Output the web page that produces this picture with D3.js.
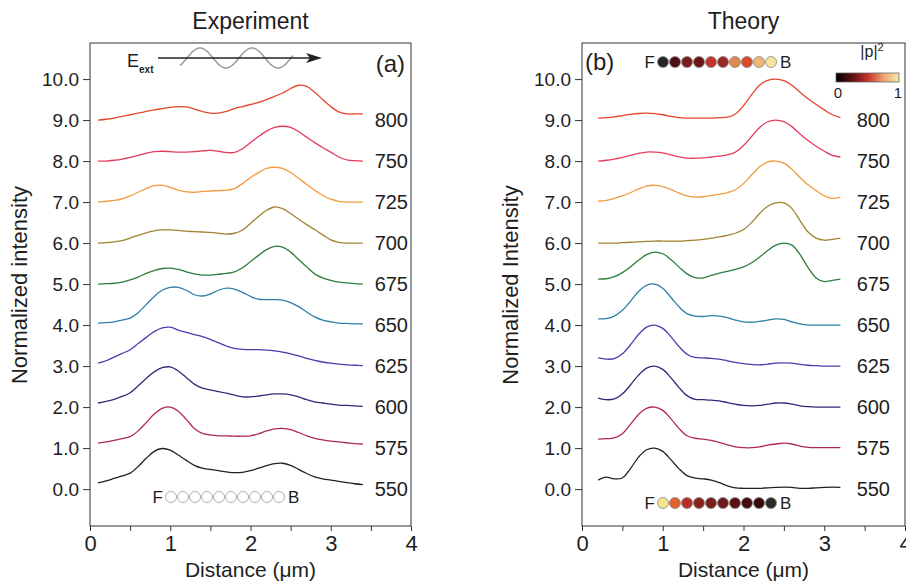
<!DOCTYPE html>
<html>
<head>
<meta charset="utf-8">
<title>Experiment vs Theory</title>
<script src="https://cdn.jsdelivr.net/npm/d3@7"></script>
<style>
  body { margin: 0; background: #fff; }
  text { font-family: "Liberation Sans", Arial, sans-serif; fill: #1e1e1e; }
</style>
</head>
<body>
<svg id="chart" width="906" height="582"></svg>
<script>
// ---- data ----
const wavelengths = ["800", "750", "725", "700", "675", "650", "625", "600", "575", "550"];
const baselines = [9, 8, 7, 6, 5, 4, 3, 2, 1, 0];
const yTicks = [0, 1, 2, 3, 4, 5, 6, 7, 8, 9, 10];
const xTicks = [0, 0.5, 1, 1.5, 2, 2.5, 3, 3.5, 4];

// experiment, x in um
const expX = [0.1, 0.2, 0.3, 0.4, 0.5, 0.6, 0.7, 0.8, 0.9, 1.0, 1.1, 1.2, 1.3, 1.4, 1.5, 1.6, 1.7,
  1.8, 1.9, 2.0, 2.1, 2.2, 2.3, 2.4, 2.5, 2.6, 2.7, 2.8, 2.9, 3.0, 3.1, 3.2, 3.3, 3.4];
const exp800 = [9.00, 9.02, 9.05, 9.09, 9.13, 9.17, 9.21, 9.25, 9.28, 9.31, 9.33, 9.32, 9.27, 9.21, 9.17, 9.17, 9.21,
  9.28, 9.33, 9.38, 9.43, 9.50, 9.58, 9.66, 9.77, 9.85, 9.82, 9.68, 9.50, 9.33, 9.20, 9.15, 9.15, 9.15];
const exp750 = [8.00, 8.00, 8.02, 8.05, 8.09, 8.14, 8.19, 8.23, 8.24, 8.23, 8.22, 8.22, 8.23, 8.25, 8.26, 8.24, 8.21,
  8.21, 8.30, 8.45, 8.60, 8.73, 8.82, 8.85, 8.82, 8.72, 8.58, 8.45, 8.33, 8.22, 8.10, 8.03, 8.01, 8.00];
const exp725 = [7.00, 7.02, 7.04, 7.08, 7.15, 7.24, 7.33, 7.40, 7.41, 7.36, 7.29, 7.25, 7.24, 7.26, 7.27, 7.28, 7.29,
  7.33, 7.45, 7.60, 7.72, 7.82, 7.85, 7.82, 7.72, 7.58, 7.43, 7.29, 7.16, 7.07, 7.02, 7.00, 7.00, 7.00];
const exp700 = [6.00, 6.01, 6.03, 6.06, 6.12, 6.19, 6.25, 6.30, 6.32, 6.32, 6.31, 6.29, 6.28, 6.27, 6.26, 6.24, 6.22,
  6.24, 6.32, 6.48, 6.65, 6.80, 6.88, 6.84, 6.72, 6.58, 6.45, 6.33, 6.20, 6.08, 6.02, 6.00, 6.00, 6.00];
const exp675 = [5.00, 5.01, 5.02, 5.05, 5.10, 5.17, 5.26, 5.33, 5.38, 5.39, 5.36, 5.30, 5.25, 5.22, 5.22, 5.24, 5.26,
  5.30, 5.40, 5.55, 5.70, 5.84, 5.92, 5.90, 5.78, 5.60, 5.42, 5.25, 5.15, 5.09, 5.05, 5.03, 5.01, 5.00];
const exp650 = [4.05, 4.06, 4.08, 4.12, 4.17, 4.30, 4.50, 4.70, 4.85, 4.92, 4.92, 4.85, 4.74, 4.71, 4.76, 4.85, 4.90,
  4.88, 4.80, 4.70, 4.63, 4.62, 4.62, 4.61, 4.55, 4.45, 4.32, 4.20, 4.12, 4.08, 4.05, 4.04, 4.03, 4.03];
const exp625 = [3.07, 3.13, 3.22, 3.31, 3.40, 3.55, 3.70, 3.84, 3.93, 3.95, 3.88, 3.82, 3.77, 3.72, 3.65, 3.57, 3.49,
  3.43, 3.41, 3.40, 3.40, 3.39, 3.37, 3.34, 3.30, 3.25, 3.19, 3.14, 3.10, 3.07, 3.05, 3.03, 3.02, 3.01];
const exp600 = [2.10, 2.14, 2.19, 2.26, 2.35, 2.52, 2.70, 2.86, 2.96, 2.98, 2.88, 2.72, 2.56, 2.46, 2.42, 2.38, 2.34,
  2.29, 2.25, 2.25, 2.27, 2.30, 2.32, 2.32, 2.30, 2.25, 2.18, 2.13, 2.10, 2.07, 2.05, 2.04, 2.03, 2.02];
const exp575 = [1.12, 1.15, 1.19, 1.23, 1.28, 1.42, 1.62, 1.83, 1.97, 2.00, 1.90, 1.70, 1.48, 1.36, 1.32, 1.30, 1.30,
  1.29, 1.29, 1.30, 1.35, 1.42, 1.47, 1.48, 1.45, 1.38, 1.30, 1.24, 1.20, 1.17, 1.15, 1.13, 1.11, 1.10];
const exp550 = [0.15, 0.20, 0.26, 0.32, 0.39, 0.55, 0.75, 0.92, 0.99, 0.95, 0.83, 0.70, 0.58, 0.51, 0.48, 0.45, 0.42,
  0.40, 0.41, 0.45, 0.51, 0.57, 0.62, 0.63, 0.58, 0.48, 0.38, 0.30, 0.25, 0.22, 0.19, 0.16, 0.13, 0.11];

// theory, x in um
const thX = [0.2, 0.3, 0.4, 0.5, 0.6, 0.7, 0.8, 0.9, 1.0, 1.1, 1.2, 1.3, 1.4, 1.5, 1.6, 1.7,
  1.8, 1.9, 2.0, 2.1, 2.2, 2.3, 2.4, 2.5, 2.6, 2.7, 2.8, 2.9, 3.0, 3.1, 3.2];
const th800 = [9.05, 9.06, 9.08, 9.11, 9.14, 9.16, 9.17, 9.16, 9.13, 9.09, 9.06, 9.05, 9.05, 9.05, 9.05, 9.06,
  9.07, 9.15, 9.35, 9.62, 9.85, 9.97, 10.00, 9.96, 9.85, 9.68, 9.52, 9.38, 9.25, 9.13, 9.06];
const th750 = [8.00, 8.02, 8.05, 8.09, 8.14, 8.19, 8.22, 8.22, 8.20, 8.15, 8.10, 8.07, 8.07, 8.08, 8.10, 8.12,
  8.15, 8.22, 8.38, 8.60, 8.82, 8.96, 9.00, 8.96, 8.84, 8.66, 8.50, 8.36, 8.24, 8.14, 8.10];
const th725 = [7.02, 7.04, 7.09, 7.15, 7.23, 7.32, 7.39, 7.41, 7.38, 7.31, 7.22, 7.15, 7.12, 7.13, 7.16, 7.19,
  7.23, 7.30, 7.45, 7.66, 7.86, 7.98, 8.00, 7.95, 7.80, 7.60, 7.42, 7.28, 7.15, 7.09, 7.12];
const th700 = [6.00, 6.00, 6.00, 6.01, 6.02, 6.03, 6.04, 6.05, 6.05, 6.05, 6.05, 6.06, 6.07, 6.09, 6.12, 6.15,
  6.19, 6.24, 6.33, 6.50, 6.72, 6.90, 6.98, 6.98, 6.84, 6.55, 6.27, 6.12, 6.07, 6.09, 6.12];
const th675 = [5.12, 5.13, 5.18, 5.28, 5.42, 5.58, 5.72, 5.78, 5.74, 5.60, 5.42, 5.25, 5.16, 5.15, 5.21, 5.27,
  5.31, 5.36, 5.42, 5.52, 5.66, 5.82, 5.95, 6.00, 5.95, 5.72, 5.40, 5.15, 5.06, 5.09, 5.12];
const th650 = [4.15, 4.16, 4.22, 4.36, 4.58, 4.82, 4.97, 5.00, 4.90, 4.68, 4.45, 4.28, 4.22, 4.21, 4.23, 4.22,
  4.18, 4.12, 4.08, 4.07, 4.09, 4.12, 4.15, 4.14, 4.08, 4.03, 4.00, 4.00, 4.00, 4.00, 4.00];
const th625 = [3.20, 3.17, 3.18, 3.30, 3.52, 3.77, 3.95, 4.00, 3.92, 3.72, 3.48, 3.29, 3.21, 3.20, 3.19, 3.17,
  3.13, 3.09, 3.06, 3.04, 3.03, 3.05, 3.07, 3.08, 3.07, 3.04, 3.02, 3.01, 3.00, 3.00, 3.00];
const th600 = [2.22, 2.18, 2.20, 2.32, 2.54, 2.78, 2.95, 3.00, 2.92, 2.72, 2.48, 2.28, 2.19, 2.18, 2.17, 2.15,
  2.11, 2.07, 2.04, 2.03, 2.04, 2.07, 2.10, 2.10, 2.07, 2.03, 2.01, 2.00, 2.00, 2.00, 2.00];
const th575 = [1.22, 1.23, 1.25, 1.35, 1.58, 1.82, 1.97, 2.00, 1.92, 1.72, 1.48, 1.30, 1.24, 1.22, 1.19, 1.14,
  1.08, 1.03, 1.01, 1.01, 1.03, 1.07, 1.10, 1.12, 1.10, 1.05, 1.02, 1.01, 1.01, 1.01, 1.01];
const th550 = [0.22, 0.29, 0.25, 0.27, 0.50, 0.78, 0.96, 1.00, 0.92, 0.72, 0.50, 0.33, 0.27, 0.25, 0.22, 0.16,
  0.08, 0.03, 0.02, 0.02, 0.02, 0.03, 0.04, 0.05, 0.04, 0.02, 0.02, 0.03, 0.04, 0.05, 0.04];

const expSeries = [exp800, exp750, exp725, exp700, exp675, exp650, exp625, exp600, exp575, exp550];
const thSeries = [th800, th750, th725, th700, th675, th650, th625, th600, th575, th550];

// |p|^2 of the ten particles, front to back
const dotsTop = ["#262626", "#4d0f10", "#7a1c1c", "#6a1616", "#c4332a", "#9a2a24", "#e08a52", "#d64a2e", "#f1b676", "#f6e59a"];
const dotsBottom = ["#f6e38c", "#e0612e", "#b4302a", "#8a2020", "#7a1c1c", "#6e1a1a", "#5a1212", "#4a0c0c", "#3a0a0a", "#2a2a2a"];
const cbarStops = ["#000000", "#5a0f0f", "#c3302a", "#eea070", "#f8eab0"];

// ---- styles ----
const lineColors = ["#e5452c", "#e43c5c", "#f39a3e", "#a08432", "#2f7d3c", "#2d7fa6", "#4b3cae", "#2f2b78", "#b02a4c", "#222222"];

const svg = d3.select("#chart");
const y = d3.scaleLinear().domain([-0.9, 10.88]).range([526, 43]);

function panel(o) {
  const x = d3.scaleLinear().domain([0, 4]).range([o.left, o.right]);
  const g = svg.append("g");

  // y axis
  g.append("g")
    .attr("transform", "translate(" + o.left + ",0)")
    .call(d3.axisLeft(y).tickValues(yTicks).tickFormat(d3.format(".1f"))
      .tickSizeOuter(0).tickSize(7).tickPadding(4))
    .call(a => a.select(".domain").remove())
    .call(a => a.selectAll("line").attr("stroke", "#333"))
    .call(a => a.selectAll("text").style("font-size", "19px").attr("fill", "#1e1e1e"));

  // x axis
  g.append("g")
    .attr("transform", "translate(0,526)")
    .call(d3.axisBottom(x).tickValues(xTicks)
      .tickFormat(d => Number.isInteger(d) ? d : "")
      .tickSizeOuter(0).tickSize(5).tickPadding(4))
    .call(a => a.select(".domain").remove())
    .call(a => a.selectAll("line").attr("stroke", "#333"))
    .call(a => a.selectAll("text").style("font-size", "22px").attr("fill", "#1e1e1e"));

  g.append("rect")
    .attr("x", o.left).attr("y", 43)
    .attr("width", o.right - o.left).attr("height", 483)
    .attr("fill", "none").attr("stroke", "#333").attr("stroke-width", 1);

  const line = d3.line()
    .x((d, i) => x(o.xs[i]))
    .y(d => y(d))
    .curve(d3.curveCatmullRom);

  g.selectAll(".curve").data(o.series).enter().append("path")
    .attr("class", "curve")
    .attr("d", line)
    .attr("fill", "none")
    .attr("stroke", (d, i) => lineColors[i])
    .attr("stroke-width", 1.3);

  g.selectAll(".wl").data(wavelengths).enter().append("text")
    .attr("class", "wl")
    .attr("x", o.labelX)
    .attr("y", (d, i) => y(baselines[i]))
    .attr("dy", "0.35em")
    .attr("text-anchor", "end")
    .style("font-size", "20px")
    .text(d => d);

  svg.append("text")
    .attr("x", (o.left + o.right) / 2).attr("y", 29)
    .attr("text-anchor", "middle")
    .style("font-size", "23px")
    .text(o.title);

  svg.append("text")
    .attr("transform", "translate(" + o.ylabX + ",285) rotate(-90)")
    .attr("text-anchor", "middle")
    .style("font-size", "22px")
    .text(o.ylabel);

  svg.append("text")
    .attr("x", (o.left + o.right) / 2).attr("y", 577)
    .attr("text-anchor", "middle")
    .style("font-size", "21px")
    .text("Distance (\u03BCm)");

  return g;
}

function dotRow(g, cx0, cy, fills, stroke) {
  g.append("text").attr("x", cx0 - 8).attr("y", cy).attr("dy", "0.36em")
    .attr("text-anchor", "end").style("font-size", "17px").text("F");
  g.selectAll(null).data(fills).enter().append("circle")
    .attr("cx", (d, i) => cx0 + 12 * i)
    .attr("cy", cy)
    .attr("r", 5.5)
    .attr("fill", d => d)
    .attr("stroke", stroke)
    .attr("stroke-width", 0.8);
  g.append("text").attr("x", cx0 + 12 * 9 + 9).attr("y", cy).attr("dy", "0.36em")
    .style("font-size", "17px").text("B");
}

// ---- left panel ----
const gA = panel({
  left: 90, right: 411, xs: expX, series: expSeries, labelX: 408,
  title: "Experiment", ylabel: "Normalized intensity", ylabX: 27
});

gA.append("text").attr("x", 405).attr("y", 72).attr("text-anchor", "end")
  .style("font-size", "24px").text("(a)");

// E_ext with travelling wave
const eText = gA.append("text").attr("x", 127).attr("y", 67).style("font-size", "18px");
eText.append("tspan").text("E");
eText.append("tspan").attr("dy", 6).style("font-size", "10px").style("font-weight", "bold").text("ext");

const wave = d3.range(180, 294, 1).map(px => [px, 58 - 10 * Math.sin(2 * Math.PI * (px - 187) / 52)]);
gA.append("path")
  .attr("d", d3.line()(wave))
  .attr("fill", "none").attr("stroke", "#9a9a9a").attr("stroke-width", 1.5);
gA.append("line").attr("x1", 158).attr("x2", 312).attr("y1", 58).attr("y2", 58)
  .attr("stroke", "#222").attr("stroke-width", 1.4);
gA.append("path").attr("d", "M306,53 L322,58 L306,63 L310,58 Z").attr("fill", "#222");

dotRow(gA, 171, 497, d3.range(10).map(() => "#fff"), "#999");

// ---- right panel ----
const gB = panel({
  left: 582, right: 905, xs: thX, series: thSeries, labelX: 890,
  title: "Theory", ylabel: "Normalized Intensity", ylabX: 518
});

gB.append("text").attr("x", 585).attr("y", 70)
  .style("font-size", "24px").text("(b)");

dotRow(gB, 663, 62, dotsTop, "#888");
dotRow(gB, 663, 503, dotsBottom, "#888");

// colour bar
const grad = svg.append("defs").append("linearGradient").attr("id", "cbar");
grad.selectAll("stop").data(cbarStops).enter().append("stop")
  .attr("offset", (d, i) => i / (cbarStops.length - 1))
  .attr("stop-color", d => d);
gB.append("rect").attr("x", 836).attr("y", 73).attr("width", 63).attr("height", 9)
  .attr("fill", "url(#cbar)").attr("stroke", "#666").attr("stroke-width", 0.8);
const pl = gB.append("text").attr("x", 872).attr("y", 57).attr("text-anchor", "middle").style("font-size", "16px");
pl.append("tspan").text("|p|");
pl.append("tspan").attr("dy", -6).style("font-size", "11px").text("2");
gB.append("text").attr("x", 838).attr("y", 98).attr("text-anchor", "middle").style("font-size", "15px").text("0");
gB.append("text").attr("x", 898).attr("y", 98).attr("text-anchor", "middle").style("font-size", "15px").text("1");
</script>
</body>
</html>
